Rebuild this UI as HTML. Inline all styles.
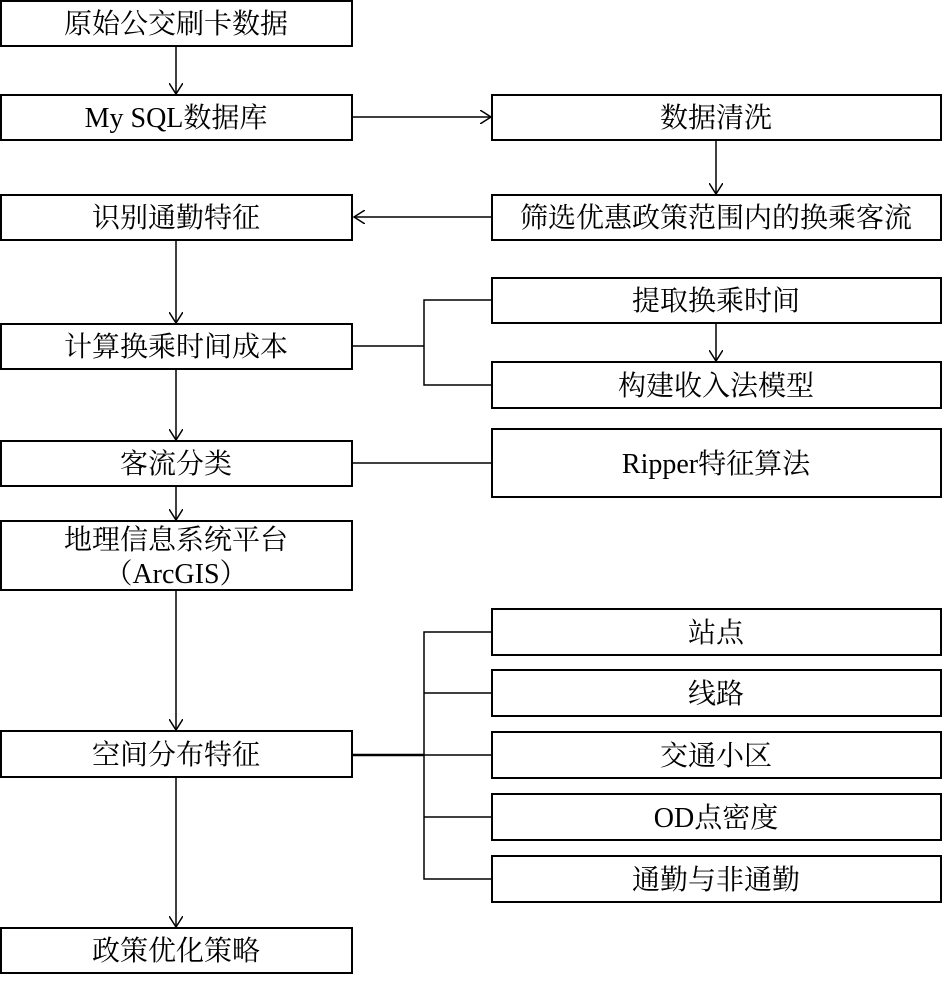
<!DOCTYPE html>
<html><head><meta charset="utf-8"><style>
html,body{margin:0;padding:0;background:#fff;}
svg text{font-family:"Liberation Serif","Noto Serif CJK SC",serif;font-size:28px;fill:#000;}
</style></head><body>
<svg width="946" height="976" viewBox="0 0 946 976" xmlns="http://www.w3.org/2000/svg">
<defs><marker id="a" markerWidth="12" markerHeight="14" refX="11" refY="7" orient="auto" markerUnits="userSpaceOnUse"><path d="M0,0 L11,7 L0,14" fill="none" stroke="#000" stroke-width="1.5"/></marker></defs>
<g fill="none" stroke="#000" stroke-width="2">
<rect x="1" y="1" width="351" height="45"/>
<rect x="1" y="95" width="351" height="45"/>
<rect x="1" y="195" width="351" height="45"/>
<rect x="1" y="324" width="351" height="45"/>
<rect x="1" y="441" width="351" height="45"/>
<rect x="1" y="521" width="351" height="69"/>
<rect x="1" y="731" width="351" height="46"/>
<rect x="1" y="928" width="351" height="45"/>
<rect x="492" y="95" width="449" height="45"/>
<rect x="492" y="195" width="449" height="45"/>
<rect x="492" y="278" width="449" height="45"/>
<rect x="492" y="362" width="449" height="46"/>
<rect x="492" y="429" width="449" height="68"/>
<rect x="492" y="609" width="449" height="46"/>
<rect x="492" y="670" width="449" height="46"/>
<rect x="492" y="732" width="449" height="46"/>
<rect x="492" y="794" width="449" height="46"/>
<rect x="492" y="856" width="449" height="46"/>
</g>
<g fill="none" stroke="#000" stroke-width="1.5">
<line x1="176" y1="47" x2="176" y2="94" marker-end="url(#a)"/>
<line x1="353" y1="117" x2="491" y2="117" marker-end="url(#a)"/>
<line x1="716" y1="141" x2="716" y2="194" marker-end="url(#a)"/>
<line x1="491" y1="217" x2="354" y2="217" marker-end="url(#a)"/>
<line x1="176" y1="241" x2="176" y2="323" marker-end="url(#a)"/>
<line x1="353" y1="346" x2="424" y2="346"/>
<polyline points="491,300 424,300 424,385 491,385"/>
<line x1="716" y1="324" x2="716" y2="361" marker-end="url(#a)"/>
<line x1="176" y1="370" x2="176" y2="440" marker-end="url(#a)"/>
<line x1="353" y1="463" x2="491" y2="463"/>
<line x1="176" y1="487" x2="176" y2="520" marker-end="url(#a)"/>
<line x1="176" y1="591" x2="176" y2="730" marker-end="url(#a)"/>
<line x1="353" y1="755" x2="424" y2="755" stroke-width="2.5"/>
<polyline points="491,632 424,632 424,879 491,879"/>
<line x1="424" y1="693" x2="491" y2="693"/>
<line x1="424" y1="755" x2="491" y2="755"/>
<line x1="424" y1="817" x2="491" y2="817"/>
<line x1="176" y1="778" x2="176" y2="927" marker-end="url(#a)"/>
</g>
<g text-anchor="middle">
<text x="176" y="33">原始公交刷卡数据</text>
<text x="176" y="127">My SQL数据库</text>
<text x="176" y="227">识别通勤特征</text>
<text x="176" y="356">计算换乘时间成本</text>
<text x="176" y="473">客流分类</text>
<text x="176" y="549">地理信息系统平台</text>
<text x="176" y="583">（ArcGIS）</text>
<text x="176" y="764">空间分布特征</text>
<text x="176" y="960">政策优化策略</text>
<text x="716" y="127">数据清洗</text>
<text x="716" y="227">筛选优惠政策范围内的换乘客流</text>
<text x="716" y="310">提取换乘时间</text>
<text x="716" y="395">构建收入法模型</text>
<text x="716" y="473">Ripper特征算法</text>
<text x="716" y="642">站点</text>
<text x="716" y="703">线路</text>
<text x="716" y="765">交通小区</text>
<text x="716" y="827">OD点密度</text>
<text x="716" y="889">通勤与非通勤</text>
</g>
</svg>
</body></html>
